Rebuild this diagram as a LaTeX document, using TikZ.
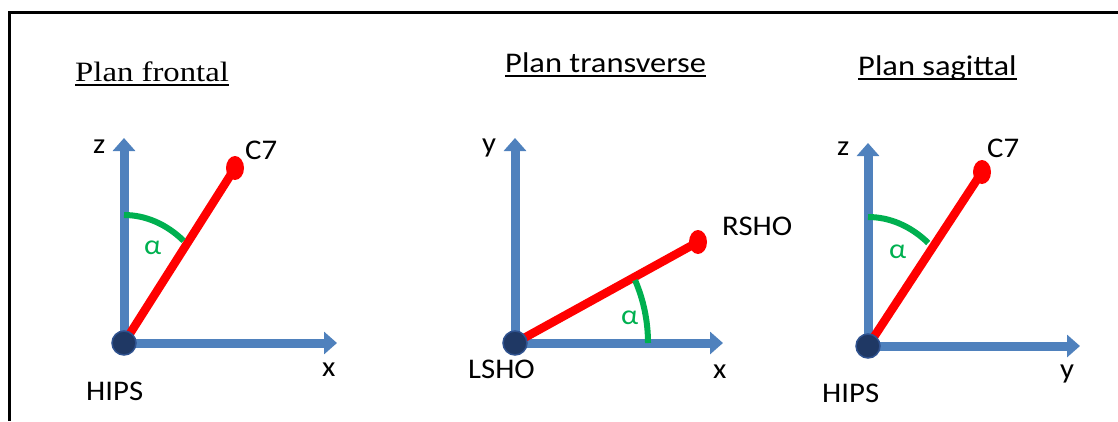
\documentclass[tikz,border=0pt]{standalone}
\usepackage{fontspec}
\setmainfont{Carlito}[FakeStretch=1.08]
\newfontfamily\ttlsans{Carlito}[FakeStretch=1.14]
\newfontfamily\ttlserif{Liberation Serif}[FakeStretch=1.17]
\usepackage{xcolor}
\usetikzlibrary{arrows.meta, shapes.geometric}
\definecolor{axblue}{RGB}{79,129,189}
\definecolor{segred}{RGB}{255,0,0}
\definecolor{angreen}{RGB}{0,176,80}
\definecolor{jointnavy}{RGB}{31,56,100}
\definecolor{jointrim}{RGB}{47,82,143}

\begin{document}
\begin{tikzpicture}[x=1pt, y=-1pt,
  axis/.style={axblue, line width=9pt, -{Triangle[length=13pt, width=22pt]}},
  seg/.style={segred, line width=8.5pt},
  ang/.style={angreen, line width=6pt},
  joint/.style={circle, fill=jointnavy, draw=jointrim, line width=1.5pt, minimum size=24pt, inner sep=0pt},
  tip/.style={ellipse, fill=segred, minimum width=18pt, minimum height=24pt, inner sep=0pt},
  lbl/.style={font=\fontsize{28.5}{32}\selectfont, anchor=base west, inner sep=0pt},
  alf/.style={font=\fontsize{28}{30}\selectfont, text=angreen, anchor=base west, inner sep=0pt},
  ttl/.style={font=\ttlsans\fontsize{28.5}{32}\selectfont, anchor=base west, inner sep=0pt},
  uline/.style={line width=1.5pt},
]
\useasboundingbox (0,0) rectangle (1118,421);

% ── frame (open at the bottom) ──
\draw[line width=3pt] (9,421) -- (9,12) -- (1118,12);

% ── Plan frontal ──
\node[ttl, font=\ttlserif\fontsize{28}{32}\selectfont] (tfro) at (75,81) {Plan frontal};
\draw[uline] ([yshift=-4pt]tfro.base west) -- ([yshift=-4pt]tfro.base east);
\coordinate (ofro) at (124,343);
\coordinate (zfro) at (124,138);
\coordinate (xfro) at (337,343);
\node[tip] (c7fro) at (235,168) {};
\draw[axis] (ofro) -- (zfro);
\draw[axis] (ofro) -- (xfro);
\draw[seg] (ofro) -- (c7fro.center);
\draw[ang] ([yshift=128pt]ofro) arc[start angle=90, end angle=53, x radius=99pt, y radius=128pt];
\node[joint] (hipsfro) at (ofro) {};
\node[lbl] (lzfro) at (93,153) {z};
\node[lbl] (lxfro) at (322,376) {x};
\node[lbl] (lc7fro) at (245,159) {C7};
\node[lbl] (lhfro) at (86,400) {HIPS};
\node[alf] (afro) at (144,254) {α};

% ── Plan transverse ──
\node[ttl] (ttra) at (505,72) {Plan transverse};
\draw[uline] ([yshift=-4pt]ttra.base west) -- ([yshift=-4pt]ttra.base east);
\coordinate (otra) at (515,343);
\coordinate (ytra) at (515,138);
\coordinate (xtra) at (723,343);
\node[tip] (rtra) at (698,242) {};
\draw[axis] (otra) -- (ytra);
\draw[axis] (otra) -- (xtra);
\draw[seg] (otra) -- (rtra.center);
\draw[ang] ([xshift=133pt]otra) arc[start angle=0, end angle=25.5, x radius=133pt, y radius=146pt];
\node[joint] (lshotra) at (otra) {};
\node[lbl] (lytra) at (482,152) {y};
\node[lbl] (lxtra) at (713,378) {x};
\node[lbl] (lrtra) at (722,235) {RSHO};
\node[lbl] (lltra) at (468,378) {LSHO};
\node[alf] (atra) at (621,324) {α};

% ── Plan sagittal ──
\node[ttl] (tsag) at (858,75) {Plan sagittal};
\draw[uline] ([yshift=-4pt]tsag.base west) -- ([yshift=-4pt]tsag.base east);
\coordinate (osag) at (868,346);
\coordinate (zsag) at (868,143);
\coordinate (ysag) at (1080,346);
\node[tip] (c7sag) at (982,172) {};
\draw[axis] (osag) -- (zsag);
\draw[axis] (osag) -- (ysag);
\draw[seg] (osag) -- (c7sag.center);
\draw[ang] ([yshift=129pt]osag) arc[start angle=90, end angle=53, x radius=100pt, y radius=129pt];
\node[joint] (hipssag) at (osag) {};
\node[lbl] (lzsag) at (837,155) {z};
\node[lbl] (lysag) at (1060,378) {y};
\node[lbl] (lc7sag) at (987,157) {C7};
\node[lbl] (lhsag) at (822,402) {HIPS};
\node[alf] (asag) at (889,258) {α};
\end{tikzpicture}
\end{document}
